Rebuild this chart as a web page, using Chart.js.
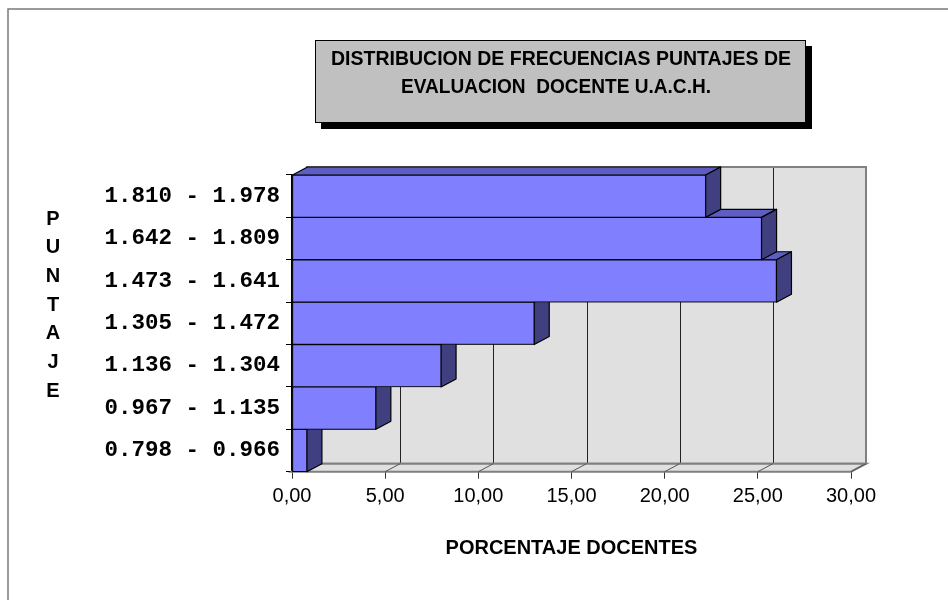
<!DOCTYPE html>
<html>
<head>
<meta charset="utf-8">
<script src="https://cdn.jsdelivr.net/npm/chart.js@4.4.1/dist/chart.umd.min.js"></script>
<style>
  html, body { margin: 0; padding: 0; background: #fff; }
</style>
</head>
<body>
<canvas id="grafico" width="948" height="600"></canvas>
<script>
// Datos (de abajo hacia arriba)
const rangos = ['0.798 - 0.966', '0.967 - 1.135', '1.136 - 1.304', '1.305 - 1.472',
                '1.473 - 1.641', '1.642 - 1.809', '1.810 - 1.978'];
const porcentajes = [0.8, 4.5, 8.0, 13.0, 26.0, 25.2, 22.2];
const valoresX = [0, 5, 10, 15, 20, 25, 30];
const etiquetasX = ['0,00', '5,00', '10,00', '15,00', '20,00', '25,00', '30,00'];
const titulo = ['DISTRIBUCION DE FRECUENCIAS PUNTAJES DE', 'EVALUACION  DOCENTE U.A.C.H.'];
const tituloY = 'PUNTAJE';
const tituloX = 'PORCENTAJE DOCENTES';

// profundidad del efecto 3D
const DX = 15, DY = 8;
const SANS = "'Liberation Sans', Arial, sans-serif";

// fondo, pared, piso y caras 3D de las barras
const efecto3d = {
  id: 'efecto3d',
  beforeDraw(chart) {
    const ctx = chart.ctx;
    ctx.save();
    ctx.strokeStyle = '#7a7a7a';
    ctx.lineWidth = 1.5;
    ctx.strokeRect(8, 9, 1000, 1000);
    ctx.restore();
  },
  beforeDatasetsDraw(chart) {
    const { ctx, chartArea: a, scales: { x } } = chart;
    ctx.save();
    // pared del fondo
    ctx.fillStyle = '#E0E0E0';
    ctx.fillRect(a.left + DX, a.top - DY, a.right - a.left, a.bottom - a.top);
    ctx.strokeStyle = '#222';
    ctx.lineWidth = 1;
    x.ticks.forEach(t => {
      const px = Math.round(x.getPixelForValue(t.value)) + DX + 0.5;
      ctx.beginPath();
      ctx.moveTo(px, a.top - DY);
      ctx.lineTo(px, a.bottom - DY);
      ctx.stroke();
    });
    ctx.strokeStyle = '#808080';
    ctx.lineWidth = 2;
    ctx.strokeRect(a.left + DX, a.top - DY, a.right - a.left, a.bottom - a.top);
    // piso
    ctx.beginPath();
    ctx.moveTo(a.left, a.bottom);
    ctx.lineTo(a.left + DX, a.bottom - DY);
    ctx.lineTo(a.right + DX, a.bottom - DY);
    ctx.lineTo(a.right, a.bottom);
    ctx.closePath();
    ctx.fillStyle = '#E0E0E0';
    ctx.fill();
    ctx.stroke();
    ctx.strokeStyle = '#555';
    ctx.lineWidth = 1;
    x.ticks.forEach(t => {
      const px = x.getPixelForValue(t.value);
      ctx.beginPath();
      ctx.moveTo(px, a.bottom);
      ctx.lineTo(px + DX, a.bottom - DY);
      ctx.stroke();
    });
    ctx.restore();
  },
  afterDatasetsDraw(chart) {
    const ctx = chart.ctx;
    const meta = chart.getDatasetMeta(0);
    ctx.save();
    ctx.strokeStyle = '#000';
    ctx.lineWidth = 1.2;
    ctx.lineJoin = 'round';
    meta.data.forEach(bar => {
      const { x: fin, y, base, height } = bar.getProps(['x', 'y', 'base', 'height'], true);
      const arriba = y - height / 2, abajo = y + height / 2;
      // cara superior
      ctx.beginPath();
      ctx.moveTo(base, arriba);
      ctx.lineTo(base + DX, arriba - DY);
      ctx.lineTo(fin + DX, arriba - DY);
      ctx.lineTo(fin, arriba);
      ctx.closePath();
      ctx.fillStyle = '#5E5EC2';
      ctx.fill();
      ctx.stroke();
      // cara lateral
      ctx.beginPath();
      ctx.moveTo(fin, arriba);
      ctx.lineTo(fin + DX, arriba - DY);
      ctx.lineTo(fin + DX, abajo - DY);
      ctx.lineTo(fin, abajo);
      ctx.closePath();
      ctx.fillStyle = '#404080';
      ctx.fill();
      ctx.stroke();
      // cara frontal encima
      bar.draw(ctx);
    });
    ctx.restore();
  },
  afterDraw(chart) {
    const ctx = chart.ctx;
    ctx.save();
    // caja del titulo con sombra
    ctx.fillStyle = '#000';
    ctx.fillRect(321, 46, 491, 83);
    ctx.fillStyle = '#C0C0C0';
    ctx.fillRect(315, 40, 491, 83);
    ctx.strokeStyle = '#000';
    ctx.lineWidth = 1;
    ctx.strokeRect(315.5, 40.5, 490, 82);
    ctx.fillStyle = '#000';
    ctx.font = 'bold 20px ' + SANS;
    ctx.textAlign = 'center';
    ctx.textBaseline = 'alphabetic';
    ctx.fillText(titulo[0], 561, 64.5, 460);
    ctx.fillText(titulo[1], 556, 93, 310);
    // titulo vertical del eje Y
    ctx.font = 'bold 20px ' + SANS;
    tituloY.split('').forEach((letra, i) => {
      ctx.fillText(letra, 53, 224.5 + i * 28.7);
    });
    ctx.restore();
  }
};

new Chart(document.getElementById('grafico'), {
  type: 'bar',
  data: {
    labels: rangos,
    datasets: [{
      data: porcentajes,
      backgroundColor: '#8080FF',
      borderColor: '#000',
      borderWidth: 1,
      borderSkipped: false,
      barPercentage: 1,
      categoryPercentage: 1
    }]
  },
  options: {
    indexAxis: 'y',
    responsive: false,
    animation: false,
    layout: { padding: { left: 0, right: 97, top: 175, bottom: 0 } },
    plugins: {
      legend: { display: false },
      title: { display: false },
      tooltip: { enabled: false }
    },
    scales: {
      x: {
        min: 0,
        max: 30,
        afterBuildTicks: s => { s.ticks = valoresX.map(v => ({ value: v })); },
        afterFit: s => { s.height = 128.3; },
        ticks: {
          callback: (v, i) => etiquetasX[i],
          font: { family: SANS, size: 20 },
          color: '#000',
          padding: 6,
          maxRotation: 0
        },
        grid: { drawOnChartArea: false, drawTicks: true, tickLength: 7, color: '#333' },
        border: { display: false },
        title: {
          display: true,
          text: tituloX,
          font: { family: SANS, size: 20, weight: 'bold' },
          color: '#000',
          padding: { top: 0, bottom: 40 }
        }
      },
      y: {
        reverse: true,
        afterFit: s => { s.width = 292; },
        ticks: {
          font: { family: "'Liberation Mono', 'Courier New', monospace", size: 22.5, weight: 'bold' },
          color: '#000',
          padding: 6
        },
        grid: { drawOnChartArea: false, offset: true, tickLength: 6, color: '#000' },
        border: { color: '#000', width: 1.5 }
      }
    }
  },
  plugins: [efecto3d]
});
</script>
</body>
</html>
